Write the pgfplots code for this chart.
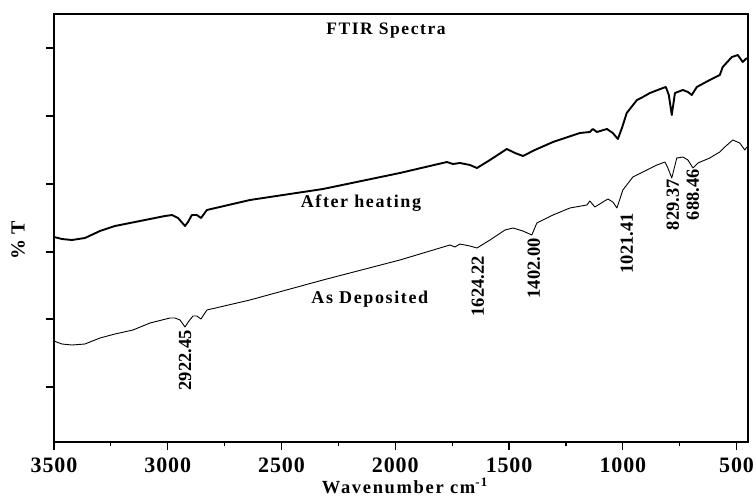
\documentclass[border=0pt]{standalone}
\usepackage{pgfplots}
\pgfplotsset{compat=1.18}
\usepackage{fontspec}
\setmainfont{Liberation Serif}
\newfontfamily\lsfont[LetterSpace=9]{Liberation Serif}
\newfontfamily\tkfont[LetterSpace=4]{Liberation Serif}
\begin{document}
\begin{tikzpicture}
\begin{axis}[
  scale only axis, width=694pt, height=428pt,
  xmin=450, xmax=3500, x dir=reverse,
  ymin=0, ymax=428,
  xtick={500,1000,...,3500}, minor x tick num=1,
  ytick={55,123,190,258,326,394}, yticklabels={},
  tick align=outside, tick pos=left,
  major tick length=8pt, minor tick length=4pt,
  tick style={line width=1.2pt, black},
  axis line style={line width=1.6pt, black},
  clip=false,
  xticklabel style={font=\fontsize{22}{24}\selectfont\tkfont\bfseries, inner sep=0pt, yshift=-8pt},
  /pgf/number format/assume math mode=true,
  /pgf/number format/1000 sep={},
]
\addplot[black, line width=1.9pt, line join=round] coordinates {
(3500,205) (3465,203) (3421,202) (3364,204) (3298,211) (3232,216) (3166,219)
(3078,223) (3012,226) (2981,227) (2955,224) (2924,216) (2911,220) (2894,227)
(2872,227) (2854,224) (2828,232) (2639,242) (2318,253) (1980,269) (1773,280)
(1747,278) (1716,279) (1672,277) (1641,274) (1584,282) (1510,293) (1474,289)
(1439,286) (1387,292) (1307,300) (1189,309) (1145,310) (1132,313) (1114,310)
(1070,313) (1044,309) (1022,303) (1004,314) (983,329) (938,342) (912,345)
(881,349) (824,354) (811,355) (798,347) (785,327) (771,349) (736,352)
(714,350) (697,347) (675,355) (618,362) (574,367) (561,375) (521,385)
(495,387) (473,380) (455,384)
};
\addplot[black, line width=0.9pt, line join=round] coordinates {
(3500,101) (3465,98) (3421,97) (3364,98) (3298,104) (3232,108) (3153,112)
(3078,119) (2990,124) (2968,124) (2946,122) (2924,115) (2907,121) (2889,126)
(2872,126) (2854,123) (2828,132) (2639,142) (2318,162) (1980,182) (1760,197)
(1738,195) (1716,198) (1672,196) (1641,194) (1584,202) (1518,212) (1483,214)
(1439,211) (1400,207) (1378,219) (1307,227) (1233,234) (1158,237) (1145,241)
(1123,235) (1066,243) (1044,240) (1026,234) (1000,252) (956,265) (895,272)
(850,277) (815,280) (802,274) (785,264) (763,284) (736,285) (714,282)
(692,274) (670,279) (618,284) (574,290) (552,295) (517,302) (486,299)
(464,292) (455,295)
};
\coordinate (bl) at (rel axis cs:0,0);
\coordinate (tr) at (rel axis cs:1,1);
\node[font=\fontsize{17.5}{20}\selectfont\lsfont\bfseries] at (axis cs:2041,411) {FTIR Spectra};
\node[font=\fontsize{18}{20}\selectfont\lsfont\bfseries] at (axis cs:2151,239) {After heating};
\node[font=\fontsize{18}{20}\selectfont\lsfont\bfseries] at (axis cs:2112,143) {As Deposited};
\node[font=\fontsize{20}{22}\selectfont\bfseries, rotate=90] at (axis cs:3658,202) {\% T};
\node[font=\fontsize{18.5}{22}\selectfont\lsfont\bfseries, anchor=base, inner sep=0pt] at (axis cs:1958,-51) {Wavenumber cm\textsuperscript{-1}};
\begin{scope}[every node/.style={font=\fontsize{18.5}{20}\selectfont\bfseries, rotate=90, anchor=east, inner sep=1pt}]
\node at (axis cs:2924,113) {2922.45};
\node at (axis cs:1637,187) {1624.22};
\node at (axis cs:1391,205) {1402.00};
\node at (axis cs:982,230) {1021.41};
\node at (axis cs:780,264) {829.37};
\node at (axis cs:692,274) {688.46};
\end{scope}
\end{axis}
\pgfresetboundingbox
\path ([shift={(-54pt,-59.3pt)}]bl) rectangle ([shift={(8pt,14pt)}]tr);
\end{tikzpicture}
\end{document}
